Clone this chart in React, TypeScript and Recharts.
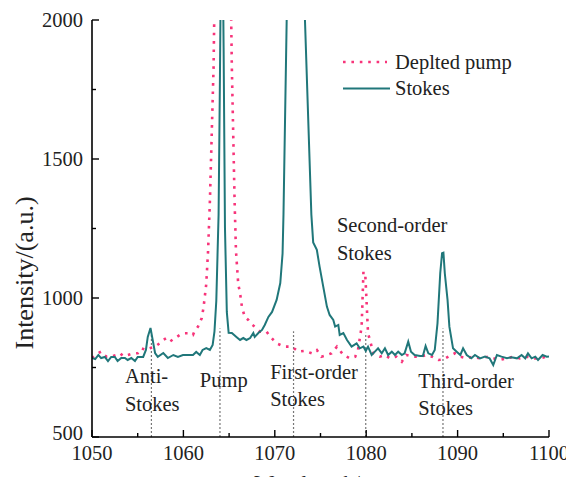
import React from "react";
import {
  LineChart,
  Line,
  XAxis,
  YAxis,
  ReferenceLine,
  ReferenceDot,
  Legend,
} from "recharts";

const FONT = "'Liberation Serif', Tinos, 'Times New Roman', 'DejaVu Serif', serif";
const TEAL = "#20777a";
const PINK = "#f7347a";
const INK = "#222";

// Stokes spectrum (nm / a.u.)
const stokesWavelength = [
  1050.0, 1050.35, 1050.7, 1051.0, 1051.4, 1051.75, 1052.1, 1052.5, 1052.8, 1053.2,
  1053.6, 1053.9, 1054.3, 1054.7, 1055.0, 1055.6, 1055.9, 1056.1, 1056.4, 1056.7,
  1056.9, 1057.2, 1057.8, 1058.3, 1058.9, 1059.4, 1059.95, 1060.5, 1061.05, 1061.4,
  1061.8, 1062.1, 1062.5, 1062.9, 1063.2, 1063.4, 1063.6, 1063.85, 1064.0, 1064.2,
  1064.4, 1064.55, 1064.75, 1064.95, 1065.3, 1065.8, 1066.2, 1066.55, 1066.9, 1067.3,
  1067.65, 1067.8, 1068.2, 1068.6, 1068.9, 1069.3, 1069.7, 1070.2, 1070.6, 1070.85,
  1070.95, 1071.3, 1071.6, 1072.3, 1073.0, 1073.3, 1074.0, 1074.2, 1074.6, 1074.9,
  1075.3, 1075.7, 1076.0, 1076.4, 1076.6, 1076.95, 1077.1, 1077.5, 1077.9, 1078.4,
  1078.95, 1079.3, 1079.7, 1079.95, 1080.2, 1080.6, 1080.95, 1081.3, 1081.7, 1082.05,
  1082.4, 1082.8, 1083.15, 1083.5, 1083.9, 1084.2, 1084.6, 1084.9, 1085.3, 1085.9,
  1086.2, 1086.5, 1086.8, 1087.2, 1087.5, 1087.8, 1088.1, 1088.3, 1088.45, 1088.6,
  1088.9, 1089.1, 1089.5, 1089.9, 1090.3, 1090.6, 1091.0, 1091.5, 1091.9, 1092.45,
  1093.0, 1093.5, 1093.9, 1094.3, 1094.8, 1095.4, 1095.9, 1096.5, 1097.0, 1097.4,
  1097.7, 1098.1, 1098.5, 1098.8, 1099.3, 1099.75, 1100.0,
];
const stokesIntensity = [
  784, 780, 795, 784, 788, 773, 788, 788, 773, 784,
  784, 777, 784, 773, 788, 788, 813, 860, 892, 838,
  802, 788, 802, 784, 795, 788, 795, 795, 795, 806,
  795, 813, 820, 813, 831, 880, 990, 1300, 1800, 2600,
  1900, 1250, 950, 875, 874, 860, 849, 856, 849, 856,
  874, 860, 874, 885, 903, 932, 950, 993, 1054, 1160,
  1300, 2000, 2700, 3600, 2600, 2000, 1300, 1200, 1173, 1113,
  1041, 969, 939, 921, 897, 903, 867, 874, 849, 825,
  837, 819, 825, 810, 825, 795, 807, 819, 801, 819,
  795, 807, 795, 807, 795, 801, 843, 807, 795, 791,
  791, 827, 801, 795, 813, 909, 1089, 1161, 1163, 1089,
  993, 897, 819, 807, 795, 819, 795, 783, 795, 783,
  789, 783, 759, 795, 789, 783, 787, 783, 795, 783,
  801, 783, 789, 777, 795, 789, 790,
];

// depleted pump spectrum (nm / a.u.)
const pumpWavelength = [
  1050.0, 1050.4, 1050.7, 1051.0, 1051.3, 1051.6, 1052.1, 1052.7, 1053.0, 1053.4,
  1053.9, 1054.5, 1055.0, 1055.4, 1055.9, 1056.3, 1056.9, 1057.4, 1057.8, 1058.1,
  1058.5, 1059.05, 1059.6, 1060.1, 1060.7, 1061.05, 1061.2, 1061.6, 1062.0, 1062.2,
  1062.5, 1062.7, 1062.9, 1063.1, 1063.3, 1063.5, 1064.3, 1065.1, 1065.3, 1065.45,
  1065.6, 1065.75, 1066.0, 1066.2, 1066.4, 1066.7, 1067.1, 1067.4, 1067.8, 1068.4,
  1069.1, 1069.5, 1070.2, 1070.7, 1071.1, 1071.85, 1072.6, 1073.3, 1074.05, 1074.6,
  1075.1, 1075.7, 1076.2, 1076.8, 1077.5, 1078.2, 1078.8, 1079.1, 1079.5, 1079.7,
  1079.9, 1080.05, 1080.2, 1080.4, 1080.8, 1081.5, 1082.05, 1082.6, 1083.3, 1083.9,
  1084.4, 1085.15, 1085.9, 1086.6, 1087.2, 1087.9, 1088.45, 1089.0, 1089.7, 1090.3,
  1091.0, 1091.7, 1092.45, 1093.4, 1093.9, 1094.6, 1095.4, 1096.1, 1096.8, 1097.6,
  1098.3, 1099.0, 1099.75, 1100.0,
];
const pumpIntensity = [
  784, 795, 802, 807, 795, 789, 789, 795, 790, 801,
  795, 801, 801, 819, 813, 819, 825, 837, 849, 855,
  843, 855, 867, 873, 873, 867, 879, 897, 927, 965,
  1050, 1170, 1350, 1590, 1830, 2300, 4000, 2300, 1830, 1590,
  1350, 1170, 1050, 1017, 969, 933, 921, 907, 897, 879,
  879, 861, 837, 830, 825, 825, 807, 810, 801, 813,
  789, 795, 801, 825, 795, 783, 789, 813, 897, 1095,
  1083, 980, 873, 849, 801, 789, 795, 783, 789, 771,
  795, 789, 789, 795, 789, 777, 779, 789, 801, 789,
  783, 789, 783, 789, 783, 777, 783, 789, 783, 789,
  783, 783, 789, 786,
];

const xTicks = [1050, 1055, 1060, 1065, 1070, 1075, 1080, 1085, 1090, 1095, 1100];
const yTicks = [500, 750, 1000, 1250, 1500, 1750, 2000];
const rightTicks = [650, 800, 950, 1100, 1250, 1400, 1550, 1700, 1850];

// dotted markers under the peaks
const markerWavelength = [1056.5, 1064.0, 1072.05, 1079.95, 1088.4];
const markerTop = [880, 890, 880, 875, 890];

// peak names, anchored at the left end of the first line
const peakNames = [
  { lines: ["Anti-", "Stokes"], w: 1053.6, v: 694 },
  { lines: ["Pump"], w: 1061.8, v: 680 },
  { lines: ["First-order", "Stokes"], w: 1069.5, v: 709 },
  { lines: ["Second-order", "Stokes"], w: 1076.8, v: 1236 },
  { lines: ["Third-order", "Stokes"], w: 1085.7, v: 677 },
];

const stokesData = stokesWavelength.map((w, i) => ({ w, v: stokesIntensity[i] }));
const pumpData = pumpWavelength.map((w, i) => ({ w, v: pumpIntensity[i] }));

const txt = (size: number) => ({ fill: INK, style: { fontFamily: FONT, fontSize: size } });
const textStyle = txt(20.5);

function BottomTick({ x, y, payload }: any) {
  const major = payload.value % 10 === 0;
  return (
    <g>
      <line x1={x} y1={y} x2={x} y2={y - (major ? 7 : 4)} stroke="#000" strokeWidth={1.4} />
      {major && (
        <text x={x} y={y + 23} textAnchor="middle" {...textStyle}>
          {payload.value}
        </text>
      )}
    </g>
  );
}

function TopTick({ x, y, payload }: any) {
  const major = payload.value % 10 === 0;
  return <line x1={x} y1={y} x2={x} y2={y + (major ? 6 : 4)} stroke="#000" strokeWidth={1.4} />;
}

function LeftTick({ x, y, payload }: any) {
  const major = payload.value % 500 === 0;
  const shift = payload.value === 500 ? -4 : 0;
  return (
    <g>
      <line x1={x} y1={y} x2={x + (major ? 7 : 4)} y2={y} stroke="#000" strokeWidth={1.4} />
      {major && (
        <text x={x - 9} y={y + shift} dy="0.35em" textAnchor="end" {...textStyle}>
          {payload.value}
        </text>
      )}
    </g>
  );
}

function RightTick({ x, y, payload }: any) {
  const long = payload.value % 300 === 200;
  return <line x1={x} y1={y} x2={x - (long ? 7 : 3.5)} y2={y} stroke="#000" strokeWidth={1.4} />;
}

function SpectrumLegend() {
  return (
    <svg width={220} height={60} style={{ display: "block" }}>
      <line x1={3} x2={47} y1={17} y2={17} stroke={PINK} strokeWidth={2.6} strokeDasharray="2.6 5.8" />
      <text x={55} y={23.5} {...textStyle}>Deplted pump</text>
      <line x1={3} x2={50} y1={43.5} y2={43.5} stroke={TEAL} strokeWidth={2} />
      <text x={55} y={50} {...textStyle}>Stokes</text>
    </svg>
  );
}

export default function App() {
  return (
    <div style={{ margin: -8, width: 574, height: 485, overflow: "hidden", background: "#fff", fontFamily: FONT }}>
      <LineChart width={574} height={485} margin={{ top: 20, right: 25, left: 0, bottom: 0 }}>
        <XAxis
          dataKey="w"
          type="number"
          domain={[1050, 1100]}
          allowDataOverflow
          ticks={xTicks}
          interval={0}
          height={48}
          tickSize={0}
          tickMargin={0}
          tickLine={false}
          axisLine={{ stroke: "#000", strokeWidth: 1.6 }}
          tick={<BottomTick />}
          label={{
            content: ({ viewBox }: any) => (
              <text
                x={viewBox.x + viewBox.width / 2}
                y={viewBox.y + 53}
                textAnchor="middle"
                {...txt(21)}
              >
                Wavelength/nm
              </text>
            ),
          }}
        />
        <XAxis
          xAxisId="top"
          orientation="top"
          type="number"
          domain={[1050, 1100]}
          allowDataOverflow
          ticks={xTicks}
          interval={0}
          height={0}
          tickSize={0}
          tickMargin={0}
          tickLine={false}
          axisLine={{ stroke: "#000", strokeWidth: 1.6 }}
          tick={<TopTick />}
        />
        <YAxis
          type="number"
          domain={[500, 2000]}
          allowDataOverflow
          ticks={yTicks}
          interval={0}
          width={92}
          tickSize={0}
          tickMargin={0}
          tickLine={false}
          axisLine={{ stroke: "#000", strokeWidth: 1.6 }}
          tick={<LeftTick />}
          label={{
            content: ({ viewBox }: any) => (
              <text
                transform={`translate(${viewBox.x + 33}, ${viewBox.y + viewBox.height / 2 + 44.5}) rotate(-90)`}
                textAnchor="middle"
                {...txt(26)}
              >
                Intensity/(a.u.)
              </text>
            ),
          }}
        />
        <YAxis
          yAxisId="right"
          orientation="right"
          type="number"
          domain={[500, 2000]}
          allowDataOverflow
          ticks={rightTicks}
          interval={0}
          width={0}
          tickSize={0}
          tickMargin={0}
          tickLine={false}
          axisLine={{ stroke: "#000", strokeWidth: 1.6 }}
          tick={<RightTick />}
        />

        {markerWavelength.map((w, i) => (
          <ReferenceLine
            key={"m" + i}
            segment={[
              { x: w, y: 500 },
              { x: w, y: markerTop[i] },
            ]}
            stroke="#777"
            strokeWidth={1.2}
            strokeDasharray="2 2"
          />
        ))}

        <Line
          data={pumpData}
          dataKey="v"
          type="linear"
          stroke={PINK}
          strokeWidth={2.6}
          strokeDasharray="2.6 5.8"
          dot={false}
          isAnimationActive={false}
          name="Deplted pump"
        />
        <Line
          data={stokesData}
          dataKey="v"
          type="linear"
          stroke={TEAL}
          strokeWidth={2}
          dot={false}
          isAnimationActive={false}
          name="Stokes"
        />

        {peakNames.map((p, i) => (
          <ReferenceDot
            key={"p" + i}
            x={p.w}
            y={p.v}
            r={0}
            fill="none"
            stroke="none"
            label={{
              content: ({ viewBox }: any) => (
                <text x={viewBox.x} y={viewBox.y} {...textStyle}>
                  {p.lines.map((t, j) => (
                    <tspan key={j} x={viewBox.x} dy={j === 0 ? 0 : 27.5}>
                      {t}
                    </tspan>
                  ))}
                </text>
              ),
            }}
          />
        ))}

        <Legend
          layout="vertical"
          align="center"
          verticalAlign="middle"
          content={() => <SpectrumLegend />}
          wrapperStyle={{ left: 340, top: 45, width: 220, height: 60 }}
        />
      </LineChart>
    </div>
  );
}
